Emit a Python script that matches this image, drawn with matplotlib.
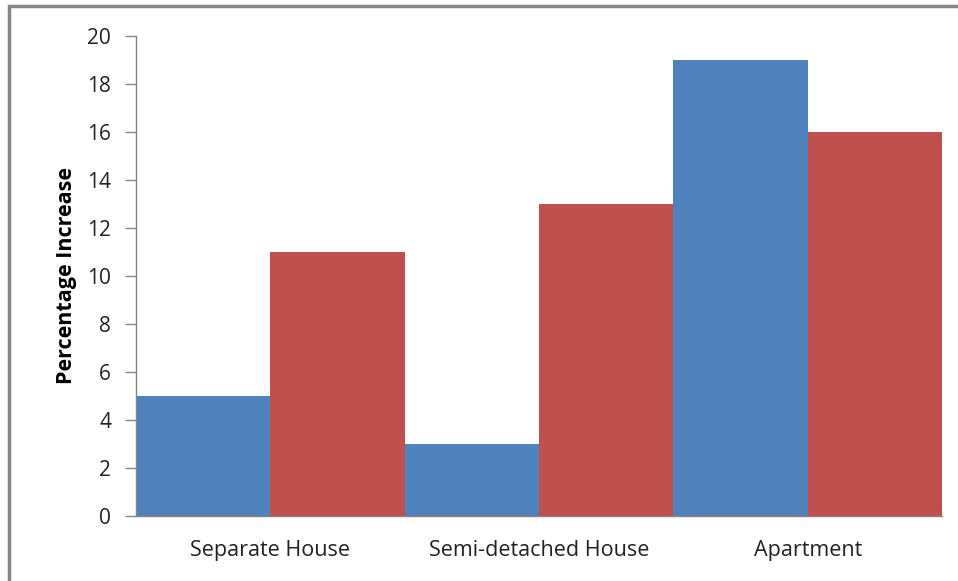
import matplotlib
matplotlib.use('Agg')
import matplotlib.pyplot as plt
import numpy as np
from matplotlib.patches import Rectangle

categories = ['Separate House', 'Semi-detached House', 'Apartment']
series_a = [5, 3, 19]
series_b = [11, 13, 16]
yticks = [0, 2, 4, 6, 8, 10, 12, 14, 16, 18, 20]

plt.rcParams['font.family'] = ['Open Sans', 'DejaVu Sans']

fig = plt.figure(figsize=(9.58, 5.81), dpi=100)
ax = fig.add_axes([136 / 958, 1 - 516 / 581, 806 / 958, 480 / 581])

x = np.arange(len(categories))
w = 0.5
ax.bar(x - w / 2, series_a, width=w, color='#4F81BD')
ax.bar(x + w / 2, series_b, width=w, color='#C0504D')

ax.set_xlim(-0.5, len(categories) - 0.5)
ax.set_ylim(0, 20)
ax.set_yticks(yticks)
ax.set_xticks(x)
ax.set_xticklabels(categories, fontsize=15.5, color='#222222')
ax.tick_params(axis='x', length=0, pad=17)
ax.tick_params(axis='y', length=8, width=1, color='#868686', labelsize=15,
               labelcolor='#222222', pad=10)
ax.set_ylabel('Percentage Increase', fontsize=15.5, fontweight='bold', labelpad=7)

for s in ['top', 'right']:
    ax.spines[s].set_visible(False)
for s in ['left', 'bottom']:
    ax.spines[s].set_color('#868686')
    ax.spines[s].set_linewidth(1)

# outer chart border
fig.patches.append(Rectangle((9 / 958, -0.1), 1.1, 1 - 6 / 581 + 0.1,
                             transform=fig.transFigure, fill=False,
                             edgecolor='#868686', linewidth=2.5))

fig.savefig('out.png', dpi=100)
